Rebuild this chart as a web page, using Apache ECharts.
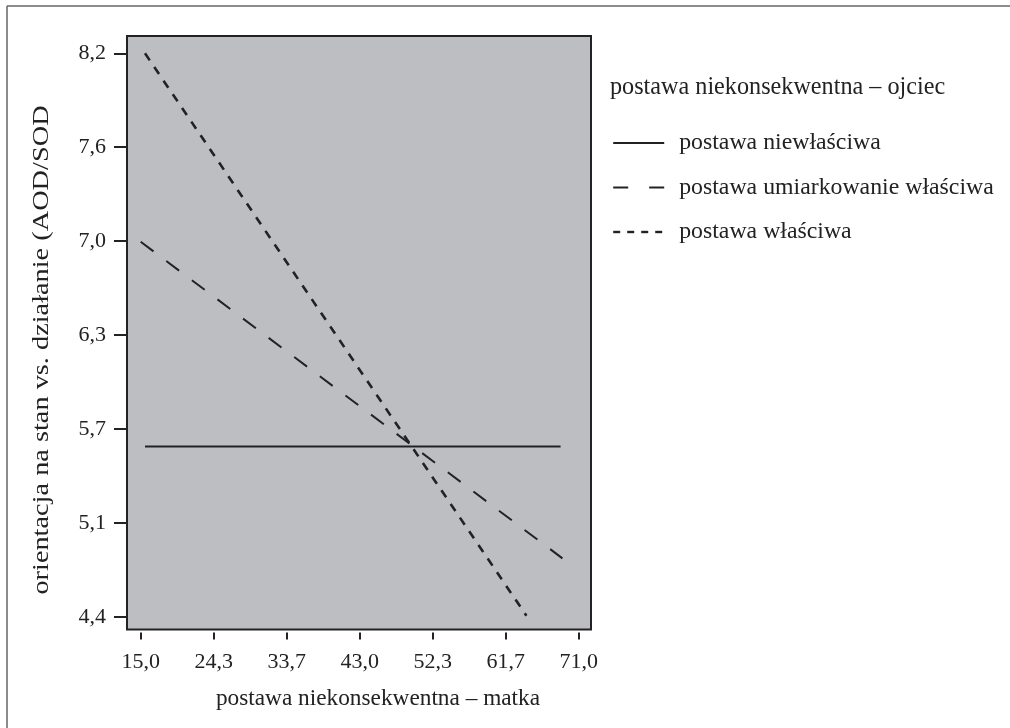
<!DOCTYPE html>
<html>
<head>
<meta charset="utf-8">
<script src="https://cdn.jsdelivr.net/npm/echarts@6/dist/echarts.min.js"></script>
<style>
html,body{margin:0;padding:0;background:#fff;}
#chart{width:1010px;height:728px;}
</style>
</head>
<body>
<div id="chart"></div>
<script>
// ---- data ----
const seriesNames = ['postawa niewłaściwa', 'postawa umiarkowanie właściwa', 'postawa właściwa'];
const niewlasciwaX = [15.55, 68.66];
const niewlasciwaY = [5.548, 5.548];
const umiarkowanieX = [15.0, 68.9];
const umiarkowanieY = [6.929, 4.794];
const wlasciwaX = [15.55, 64.3];
const wlasciwaY = [8.2, 4.407];

const xTickValues = [15.0, 24.333, 33.667, 43.0, 52.333, 61.667, 71.0];
const xTickLabels = ['15,0', '24,3', '33,7', '43,0', '52,3', '61,7', '71,0'];
const yTickValues = [4.4, 5.0333, 5.6667, 6.3, 6.9333, 7.5667, 8.2];
const yTickLabels = ['4,4', '5,1', '5,7', '6,3', '7,0', '7,6', '8,2'];

const xTitle = 'postawa niekonsekwentna – matka';
const yTitle = 'orientacja na stan vs. działanie (AOD/SOD';
const legendTitle = 'postawa niekonsekwentna – ojciec';

// ---- helpers ----
function zip(xs, ys) { return xs.map((x, i) => [x, ys[i]]); }
function labelFor(values, labels) {
  return function (v) {
    let best = 0, d = Infinity;
    values.forEach((t, i) => { const dd = Math.abs(t - v); if (dd < d) { d = dd; best = i; } });
    return labels[best];
  };
}
const FONT = '"Liberation Serif", "Times New Roman", serif';
const INK = '#222';

const chart = echarts.init(document.getElementById('chart'), null, { renderer: 'canvas' });
chart.setOption({
  animation: false,
  backgroundColor: '#fff',
  grid: {
    left: 127, top: 36, right: 419, bottom: 98.5,
    show: true, backgroundColor: '#bdbec2', borderColor: INK, borderWidth: 2
  },
  xAxis: {
    type: 'value', min: 13.25, max: 72.55, offset: 3,
    axisLine: { show: false },
    axisTick: { show: true, length: 7, lineStyle: { color: INK, width: 2 }, customValues: xTickValues },
    axisLabel: { customValues: xTickValues, formatter: labelFor(xTickValues, xTickLabels),
                 fontFamily: FONT, fontSize: 22, color: INK, margin: 19 },
    splitLine: { show: false }
  },
  yAxis: {
    type: 'value', min: 4.314, max: 8.317,
    axisLine: { show: false },
    axisTick: { show: true, length: 13, lineStyle: { color: INK, width: 2 }, customValues: yTickValues },
    axisLabel: { customValues: yTickValues, formatter: labelFor(yTickValues, yTickLabels),
                 fontFamily: FONT, fontSize: 22, color: INK, margin: 21 },
    splitLine: { show: false }
  },
  legend: {
    orient: 'vertical', left: 612, top: 131, padding: 0,
    itemWidth: 51, itemHeight: 22, itemGap: 20.5,
    selectedMode: false,
    itemStyle: { opacity: 0 },
    lineStyle: { width: 2 },
    textStyle: { fontFamily: FONT, fontSize: 23.8, color: INK, padding: [0, 0, 0, 10], lineHeight: 22 },
    data: [
      { name: seriesNames[0] },
      { name: seriesNames[1], lineStyle: { type: [15, 21], width: 2.2 } },
      { name: seriesNames[2], lineStyle: { type: [7, 7], width: 2.4 } }
    ]
  },
  graphic: [
    { type: 'line', shape: { x1: 7, y1: 6, x2: 1010, y2: 6 }, style: { stroke: '#666', lineWidth: 1.5 } },
    { type: 'line', shape: { x1: 7, y1: 6, x2: 7, y2: 728 }, style: { stroke: '#666', lineWidth: 1.5 } },
    { type: 'text', x: 378, y: 699,
      style: { text: xTitle, font: '23.3px ' + FONT, fill: INK, textAlign: 'center', textVerticalAlign: 'middle' } },
    { type: 'text', x: 42, y: 350, rotation: Math.PI / 2, scaleX: 1.18,
      style: { text: yTitle, font: '24px ' + FONT, fill: INK, textAlign: 'center', textVerticalAlign: 'middle' } },
    { type: 'text', x: 610, y: 88,
      style: { text: legendTitle, font: '24.2px ' + FONT, fill: INK, textAlign: 'left', textVerticalAlign: 'middle' } }
  ],
  series: [
    { name: seriesNames[0], type: 'line', data: zip(niewlasciwaX, niewlasciwaY), symbol: 'none', showSymbol: false,
      lineStyle: { color: INK, width: 2, type: 'solid' }, itemStyle: { color: INK } },
    { name: seriesNames[1], type: 'line', data: zip(umiarkowanieX, umiarkowanieY), symbol: 'none', showSymbol: false,
      lineStyle: { color: INK, width: 2, type: [16, 16] }, itemStyle: { color: INK } },
    { name: seriesNames[2], type: 'line', data: zip(wlasciwaX, wlasciwaY), symbol: 'none', showSymbol: false,
      lineStyle: { color: INK, width: 2.6, type: [8.5, 8] }, itemStyle: { color: INK } }
  ]
});
</script>
</body>
</html>
